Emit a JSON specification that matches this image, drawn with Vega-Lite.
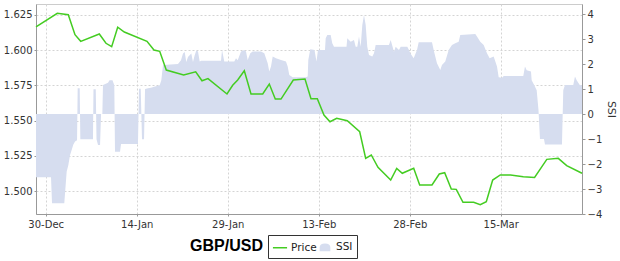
{
"$schema": "https://vega.github.io/schema/vega-lite/v6.json",
"width": 546, "height": 210,
"autosize": {"type": "none"},
"padding": {"left": 36, "top": 4, "right": 38, "bottom": 47},
"background": "white",
"config": {
 "view": {"stroke": "#cccccc"},
 "font": "DejaVu Sans",
 "axis": {"labelFont": "DejaVu Sans", "labelFontSize": 10, "labelColor": "#333333", "domainColor": "#999999", "tickColor": "#999999", "tickSize": 2, "labelPadding": 2, "titleFont": "DejaVu Sans", "titleFontWeight": "normal", "titleFontSize": 11, "titleColor": "#333333"},
 "legend": {"orient": "none", "legendX": 232, "legendY": 231, "direction": "horizontal", "title": null,
   "strokeColor": "#333333", "padding": 4, "labelFont": "DejaVu Sans", "labelFontSize": 10.5, "labelColor": "#222222",
   "symbolSize": 200, "columnPadding": 0, "labelOffset": 3, "symbolType": "stroke", "symbolStrokeWidth": 1.5}
},
"datasets": {
 "price": [
  {"date":"2012-12-28T09:36","value":1.6165,"series":"Price"},
  {"date":"2012-12-31T21:50","value":1.6262,"series":"Price"},
  {"date":"2013-01-02T17:20","value":1.6252,"series":"Price"},
  {"date":"2013-01-03T19:50","value":1.6110,"series":"Price"},
  {"date":"2013-01-04T18:30","value":1.6063,"series":"Price"},
  {"date":"2013-01-07T20:00","value":1.6115,"series":"Price"},
  {"date":"2013-01-08T22:30","value":1.6049,"series":"Price"},
  {"date":"2013-01-09T21:00","value":1.6025,"series":"Price"},
  {"date":"2013-01-10T20:50","value":1.6163,"series":"Price"},
  {"date":"2013-01-11T23:00","value":1.6129,"series":"Price"},
  {"date":"2013-01-15T16:40","value":1.6063,"series":"Price"},
  {"date":"2013-01-16T20:20","value":1.6001,"series":"Price"},
  {"date":"2013-01-17T19:00","value":1.5992,"series":"Price"},
  {"date":"2013-01-18T21:00","value":1.5859,"series":"Price"},
  {"date":"2013-01-21T17:50","value":1.5824,"series":"Price"},
  {"date":"2013-01-23T17:20","value":1.5847,"series":"Price"},
  {"date":"2013-01-24T18:20","value":1.5783,"series":"Price"},
  {"date":"2013-01-25T18:00","value":1.5798,"series":"Price"},
  {"date":"2013-01-28T21:10","value":1.5689,"series":"Price"},
  {"date":"2013-01-29T19:40","value":1.5751,"series":"Price"},
  {"date":"2013-01-30T15:30","value":1.5788,"series":"Price"},
  {"date":"2013-01-31T17:40","value":1.5854,"series":"Price"},
  {"date":"2013-02-01T20:10","value":1.5689,"series":"Price"},
  {"date":"2013-02-03T18:30","value":1.5689,"series":"Price"},
  {"date":"2013-02-04T20:30","value":1.5760,"series":"Price"},
  {"date":"2013-02-05T20:15","value":1.5653,"series":"Price"},
  {"date":"2013-02-06T18:50","value":1.5653,"series":"Price"},
  {"date":"2013-02-08T19:30","value":1.5788,"series":"Price"},
  {"date":"2013-02-10T17:45","value":1.5795,"series":"Price"},
  {"date":"2013-02-11T17:30","value":1.5656,"series":"Price"},
  {"date":"2013-02-12T18:30","value":1.5656,"series":"Price"},
  {"date":"2013-02-13T20:50","value":1.5540,"series":"Price"},
  {"date":"2013-02-14T20:40","value":1.5492,"series":"Price"},
  {"date":"2013-02-15T23:10","value":1.5516,"series":"Price"},
  {"date":"2013-02-17T17:00","value":1.5499,"series":"Price"},
  {"date":"2013-02-19T18:10","value":1.5421,"series":"Price"},
  {"date":"2013-02-20T17:50","value":1.5232,"series":"Price"},
  {"date":"2013-02-21T16:00","value":1.5256,"series":"Price"},
  {"date":"2013-02-22T18:30","value":1.5168,"series":"Price"},
  {"date":"2013-02-24T20:45","value":1.5078,"series":"Price"},
  {"date":"2013-02-25T20:30","value":1.5161,"series":"Price"},
  {"date":"2013-02-26T18:40","value":1.5126,"series":"Price"},
  {"date":"2013-02-28T15:45","value":1.5161,"series":"Price"},
  {"date":"2013-03-01T15:30","value":1.5043,"series":"Price"},
  {"date":"2013-03-03T16:10","value":1.5043,"series":"Price"},
  {"date":"2013-03-04T21:00","value":1.5121,"series":"Price"},
  {"date":"2013-03-05T18:20","value":1.5130,"series":"Price"},
  {"date":"2013-03-06T20:30","value":1.5014,"series":"Price"},
  {"date":"2013-03-07T16:15","value":1.5012,"series":"Price"},
  {"date":"2013-03-08T18:45","value":1.4920,"series":"Price"},
  {"date":"2013-03-10T13:00","value":1.4920,"series":"Price"},
  {"date":"2013-03-11T15:10","value":1.4903,"series":"Price"},
  {"date":"2013-03-12T15:00","value":1.4924,"series":"Price"},
  {"date":"2013-03-13T16:15","value":1.5078,"series":"Price"},
  {"date":"2013-03-14T22:20","value":1.5114,"series":"Price"},
  {"date":"2013-03-16T15:00","value":1.5114,"series":"Price"},
  {"date":"2013-03-18T17:20","value":1.5102,"series":"Price"},
  {"date":"2013-03-20T14:00","value":1.5097,"series":"Price"},
  {"date":"2013-03-22T14:20","value":1.5225,"series":"Price"},
  {"date":"2013-03-24T11:45","value":1.5232,"series":"Price"},
  {"date":"2013-03-25T21:00","value":1.5180,"series":"Price"},
  {"date":"2013-03-28T09:36","value":1.5126,"series":"Price"}
 ],
 "ssi": [
  {"date":"2012-12-28T09:36","value":-2.53,"series":"SSI"},
  {"date":"2012-12-30T21:00","value":-2.53,"series":"SSI"},
  {"date":"2012-12-31T01:00","value":-3.57,"series":"SSI"},
  {"date":"2013-01-02T01:30","value":-3.57,"series":"SSI"},
  {"date":"2013-01-02T11:00","value":-2.30,"series":"SSI"},
  {"date":"2013-01-02T17:24","value":-2.05,"series":"SSI"},
  {"date":"2013-01-03T00:00","value":-1.65,"series":"SSI"},
  {"date":"2013-01-03T07:00","value":-1.43,"series":"SSI"},
  {"date":"2013-01-03T13:00","value":-1.23,"series":"SSI"},
  {"date":"2013-01-03T20:00","value":-1.10,"series":"SSI"},
  {"date":"2013-01-04T04:00","value":-1.05,"series":"SSI"},
  {"date":"2013-01-04T06:30","value":1.03,"series":"SSI"},
  {"date":"2013-01-04T14:30","value":1.03,"series":"SSI"},
  {"date":"2013-01-04T17:00","value":-1.01,"series":"SSI"},
  {"date":"2013-01-06T19:00","value":-1.01,"series":"SSI"},
  {"date":"2013-01-06T21:00","value":0.99,"series":"SSI"},
  {"date":"2013-01-07T06:00","value":0.99,"series":"SSI"},
  {"date":"2013-01-07T09:00","value":-1.01,"series":"SSI"},
  {"date":"2013-01-07T15:00","value":-1.24,"series":"SSI"},
  {"date":"2013-01-07T23:00","value":-1.24,"series":"SSI"},
  {"date":"2013-01-08T03:00","value":0,"series":"SSI"},
  {"date":"2013-01-08T08:00","value":0,"series":"SSI"},
  {"date":"2013-01-08T10:40","value":1.16,"series":"SSI"},
  {"date":"2013-01-09T06:30","value":1.25,"series":"SSI"},
  {"date":"2013-01-09T12:24","value":1.35,"series":"SSI"},
  {"date":"2013-01-10T00:15","value":1.35,"series":"SSI"},
  {"date":"2013-01-10T07:20","value":1.15,"series":"SSI"},
  {"date":"2013-01-10T10:10","value":-1.51,"series":"SSI"},
  {"date":"2013-01-11T06:00","value":-1.51,"series":"SSI"},
  {"date":"2013-01-11T10:00","value":-1.20,"series":"SSI"},
  {"date":"2013-01-14T05:00","value":-1.20,"series":"SSI"},
  {"date":"2013-01-14T09:00","value":1.01,"series":"SSI"},
  {"date":"2013-01-14T15:50","value":1.01,"series":"SSI"},
  {"date":"2013-01-14T21:00","value":-1.01,"series":"SSI"},
  {"date":"2013-01-15T05:00","value":-1.01,"series":"SSI"},
  {"date":"2013-01-15T09:00","value":1.00,"series":"SSI"},
  {"date":"2013-01-15T20:40","value":1.03,"series":"SSI"},
  {"date":"2013-01-16T08:30","value":1.05,"series":"SSI"},
  {"date":"2013-01-17T00:20","value":1.10,"series":"SSI"},
  {"date":"2013-01-17T19:00","value":1.15,"series":"SSI"},
  {"date":"2013-01-18T01:20","value":1.35,"series":"SSI"},
  {"date":"2013-01-18T08:00","value":1.96,"series":"SSI"},
  {"date":"2013-01-20T19:20","value":2.00,"series":"SSI"},
  {"date":"2013-01-21T07:10","value":2.15,"series":"SSI"},
  {"date":"2013-01-21T15:10","value":2.42,"series":"SSI"},
  {"date":"2013-01-21T21:50","value":2.48,"series":"SSI"},
  {"date":"2013-01-22T04:10","value":2.08,"series":"SSI"},
  {"date":"2013-01-22T10:50","value":2.28,"series":"SSI"},
  {"date":"2013-01-23T00:00","value":2.42,"series":"SSI"},
  {"date":"2013-01-23T06:40","value":2.08,"series":"SSI"},
  {"date":"2013-01-23T13:20","value":2.35,"series":"SSI"},
  {"date":"2013-01-23T19:50","value":2.54,"series":"SSI"},
  {"date":"2013-01-24T02:30","value":2.50,"series":"SSI"},
  {"date":"2013-01-24T09:10","value":2.10,"series":"SSI"},
  {"date":"2013-01-24T15:30","value":2.13,"series":"SSI"},
  {"date":"2013-01-27T21:30","value":2.13,"series":"SSI"},
  {"date":"2013-01-28T01:30","value":2.56,"series":"SSI"},
  {"date":"2013-01-28T10:30","value":2.10,"series":"SSI"},
  {"date":"2013-01-30T02:00","value":2.10,"series":"SSI"},
  {"date":"2013-01-30T08:50","value":2.23,"series":"SSI"},
  {"date":"2013-01-30T15:30","value":2.15,"series":"SSI"},
  {"date":"2013-01-31T04:30","value":2.50,"series":"SSI"},
  {"date":"2013-01-31T17:40","value":2.56,"series":"SSI"},
  {"date":"2013-02-01T00:20","value":2.50,"series":"SSI"},
  {"date":"2013-02-01T07:00","value":2.16,"series":"SSI"},
  {"date":"2013-02-01T17:20","value":2.43,"series":"SSI"},
  {"date":"2013-02-02T02:50","value":2.50,"series":"SSI"},
  {"date":"2013-02-03T11:40","value":2.50,"series":"SSI"},
  {"date":"2013-02-04T00:45","value":2.43,"series":"SSI"},
  {"date":"2013-02-04T14:10","value":2.03,"series":"SSI"},
  {"date":"2013-02-04T20:30","value":1.70,"series":"SSI"},
  {"date":"2013-02-05T03:15","value":1.90,"series":"SSI"},
  {"date":"2013-02-05T10:00","value":2.30,"series":"SSI"},
  {"date":"2013-02-05T23:00","value":2.23,"series":"SSI"},
  {"date":"2013-02-06T18:50","value":2.16,"series":"SSI"},
  {"date":"2013-02-07T14:30","value":2.10,"series":"SSI"},
  {"date":"2013-02-07T21:20","value":1.90,"series":"SSI"},
  {"date":"2013-02-08T03:40","value":1.56,"series":"SSI"},
  {"date":"2013-02-08T17:00","value":1.47,"series":"SSI"},
  {"date":"2013-02-10T21:40","value":1.47,"series":"SSI"},
  {"date":"2013-02-11T04:30","value":1.50,"series":"SSI"},
  {"date":"2013-02-11T06:50","value":2.16,"series":"SSI"},
  {"date":"2013-02-11T14:40","value":2.59,"series":"SSI"},
  {"date":"2013-02-12T07:20","value":2.56,"series":"SSI"},
  {"date":"2013-02-12T15:10","value":2.10,"series":"SSI"},
  {"date":"2013-02-12T21:10","value":2.56,"series":"SSI"},
  {"date":"2013-02-14T00:50","value":2.56,"series":"SSI"},
  {"date":"2013-02-14T03:40","value":3.03,"series":"SSI"},
  {"date":"2013-02-14T10:00","value":3.16,"series":"SSI"},
  {"date":"2013-02-14T23:20","value":3.16,"series":"SSI"},
  {"date":"2013-02-15T05:40","value":2.83,"series":"SSI"},
  {"date":"2013-02-15T12:30","value":2.69,"series":"SSI"},
  {"date":"2013-02-17T14:00","value":2.69,"series":"SSI"},
  {"date":"2013-02-17T17:00","value":3.03,"series":"SSI"},
  {"date":"2013-02-18T06:30","value":2.89,"series":"SSI"},
  {"date":"2013-02-18T19:30","value":2.96,"series":"SSI"},
  {"date":"2013-02-19T02:20","value":2.69,"series":"SSI"},
  {"date":"2013-02-19T08:40","value":2.69,"series":"SSI"},
  {"date":"2013-02-19T15:20","value":3.10,"series":"SSI"},
  {"date":"2013-02-19T22:00","value":2.69,"series":"SSI"},
  {"date":"2013-02-20T04:30","value":3.56,"series":"SSI"},
  {"date":"2013-02-20T11:10","value":3.96,"series":"SSI"},
  {"date":"2013-02-20T17:50","value":3.56,"series":"SSI"},
  {"date":"2013-02-21T00:10","value":2.69,"series":"SSI"},
  {"date":"2013-02-21T07:00","value":2.36,"series":"SSI"},
  {"date":"2013-02-21T20:00","value":2.30,"series":"SSI"},
  {"date":"2013-02-22T02:40","value":2.43,"series":"SSI"},
  {"date":"2013-02-22T09:20","value":2.76,"series":"SSI"},
  {"date":"2013-02-24T14:00","value":2.76,"series":"SSI"},
  {"date":"2013-02-24T20:45","value":2.96,"series":"SSI"},
  {"date":"2013-02-25T09:50","value":2.49,"series":"SSI"},
  {"date":"2013-02-25T16:30","value":2.69,"series":"SSI"},
  {"date":"2013-02-26T05:30","value":2.56,"series":"SSI"},
  {"date":"2013-02-26T12:20","value":2.69,"series":"SSI"},
  {"date":"2013-02-27T14:30","value":2.69,"series":"SSI"},
  {"date":"2013-02-27T21:10","value":2.56,"series":"SSI"},
  {"date":"2013-02-28T02:20","value":2.43,"series":"SSI"},
  {"date":"2013-02-28T15:45","value":2.23,"series":"SSI"},
  {"date":"2013-03-01T04:50","value":2.56,"series":"SSI"},
  {"date":"2013-03-01T11:30","value":2.87,"series":"SSI"},
  {"date":"2013-03-03T16:10","value":2.87,"series":"SSI"},
  {"date":"2013-03-03T22:50","value":2.56,"series":"SSI"},
  {"date":"2013-03-04T11:50","value":2.03,"series":"SSI"},
  {"date":"2013-03-05T01:00","value":1.76,"series":"SSI"},
  {"date":"2013-03-05T07:40","value":1.96,"series":"SSI"},
  {"date":"2013-03-05T20:40","value":2.10,"series":"SSI"},
  {"date":"2013-03-06T10:10","value":2.56,"series":"SSI"},
  {"date":"2013-03-06T23:15","value":2.76,"series":"SSI"},
  {"date":"2013-03-07T12:20","value":2.83,"series":"SSI"},
  {"date":"2013-03-08T01:45","value":2.89,"series":"SSI"},
  {"date":"2013-03-08T08:00","value":3.16,"series":"SSI"},
  {"date":"2013-03-10T19:30","value":3.20,"series":"SSI"},
  {"date":"2013-03-11T02:10","value":3.10,"series":"SSI"},
  {"date":"2013-03-11T15:10","value":2.89,"series":"SSI"},
  {"date":"2013-03-12T04:40","value":2.76,"series":"SSI"},
  {"date":"2013-03-12T17:40","value":2.43,"series":"SSI"},
  {"date":"2013-03-13T04:20","value":2.23,"series":"SSI"},
  {"date":"2013-03-13T20:10","value":2.30,"series":"SSI"},
  {"date":"2013-03-14T09:20","value":1.90,"series":"SSI"},
  {"date":"2013-03-14T16:00","value":1.47,"series":"SSI"},
  {"date":"2013-03-15T05:00","value":1.45,"series":"SSI"},
  {"date":"2013-03-15T12:00","value":1.52,"series":"SSI"},
  {"date":"2013-03-18T17:20","value":1.52,"series":"SSI"},
  {"date":"2013-03-19T00:00","value":1.90,"series":"SSI"},
  {"date":"2013-03-19T06:45","value":1.75,"series":"SSI"},
  {"date":"2013-03-19T23:45","value":1.70,"series":"SSI"},
  {"date":"2013-03-20T02:30","value":1.35,"series":"SSI"},
  {"date":"2013-03-20T12:50","value":1.15,"series":"SSI"},
  {"date":"2013-03-20T22:20","value":0.95,"series":"SSI"},
  {"date":"2013-03-21T05:30","value":0.15,"series":"SSI"},
  {"date":"2013-03-21T11:20","value":-1.00,"series":"SSI"},
  {"date":"2013-03-22T03:10","value":-1.00,"series":"SSI"},
  {"date":"2013-03-22T07:10","value":-1.22,"series":"SSI"},
  {"date":"2013-03-25T02:20","value":-1.22,"series":"SSI"},
  {"date":"2013-03-25T07:30","value":0.95,"series":"SSI"},
  {"date":"2013-03-25T14:15","value":1.16,"series":"SSI"},
  {"date":"2013-03-26T23:00","value":1.16,"series":"SSI"},
  {"date":"2013-03-27T05:50","value":1.50,"series":"SSI"},
  {"date":"2013-03-27T12:30","value":1.35,"series":"SSI"},
  {"date":"2013-03-27T18:50","value":1.25,"series":"SSI"},
  {"date":"2013-03-28T01:30","value":1.15,"series":"SSI"},
  {"date":"2013-03-28T09:36","value":1.15,"series":"SSI"}
 ]
},
"layer": [
 {
  "data": {"name": "ssi"},
  "mark": {"type": "area", "opacity": 1, "interpolate": "linear"},
  "encoding": {
   "x": {"field": "date", "type": "temporal",
     "scale": {"domain": [{"year":2012,"month":12,"date":28,"hours":9,"minutes":36},{"year":2013,"month":3,"date":28,"hours":9,"minutes":36}]},
     "axis": {"title": "GBP/USD", "titleFont": "Liberation Sans", "titleFontSize": 16, "titleFontWeight": "bold", "titleColor": "#000000",
       "titleX": 190, "titleY": 31, "titleAlign": "center", "titleBaseline": "middle", "titleAnchor": null,
       "format": "%d-%b", "labelFlush": false, "labelPadding": 3,
       "values": [{"year":2012,"month":12,"date":30},{"year":2013,"month":1,"date":14},{"year":2013,"month":1,"date":29},{"year":2013,"month":2,"date":13},{"year":2013,"month":2,"date":28},{"year":2013,"month":3,"date":15}],
       "grid": true, "gridDash": [2,2], "gridColor": "#d4d4d4"}},
   "y": {"field": "value", "type": "quantitative",
     "scale": {"domain": [-4, 4.4], "nice": false, "zero": false},
     "axis": {"orient": "right", "title": "SSI", "values": [-4,-3,-2,-1,0,1,2,3,4], "grid": false, "titlePadding": 4, "tickSize": 3}},
   "y2": {"datum": 0},
   "color": {"field": "series", "type": "nominal",
     "scale": {"domain": ["Price","SSI"], "range": ["#44cc22","#d6ddef"]},
     "legend": {"orient": "none", "legendX": 232, "legendY": 231,
       "encode": {"symbols": {"update": {
         "shape": {"signal": "datum.value === 'Price' ? 'stroke' : 'M-0.65,0.45 L-0.65,0 C-0.65,-0.6 0.65,-0.6 0.65,0 L0.65,0.45 Z'"},
         "fill": {"signal": "datum.value === 'Price' ? 'transparent' : '#d6ddef'"},
         "stroke": {"signal": "datum.value === 'Price' ? '#44cc22' : 'transparent'"}
       }}}}}
  }
 },
 {
  "data": {"name": "price"},
  "mark": {"type": "line", "strokeWidth": 1.5},
  "encoding": {
   "x": {"field": "date", "type": "temporal"},
   "y": {"field": "value", "type": "quantitative",
     "scale": {"domain": [1.4837, 1.6328], "nice": false, "zero": false},
     "axis": {"orient": "left", "title": null, "format": ".3f", "values": [1.5,1.525,1.55,1.575,1.6,1.625], "grid": true, "gridDash": [2,2], "gridColor": "#d4d4d4"}},
   "color": {"field": "series", "type": "nominal",
     "legend": {"orient": "none", "legendX": 232, "legendY": 231,
       "encode": {"symbols": {"update": {
         "shape": {"signal": "datum.value === 'Price' ? 'stroke' : 'M-0.65,0.45 L-0.65,0 C-0.65,-0.6 0.65,-0.6 0.65,0 L0.65,0.45 Z'"},
         "fill": {"signal": "datum.value === 'Price' ? 'transparent' : '#d6ddef'"},
         "stroke": {"signal": "datum.value === 'Price' ? '#44cc22' : 'transparent'"}
       }}}}}
  }
 }
],
"resolve": {"scale": {"y": "independent"}}
}
